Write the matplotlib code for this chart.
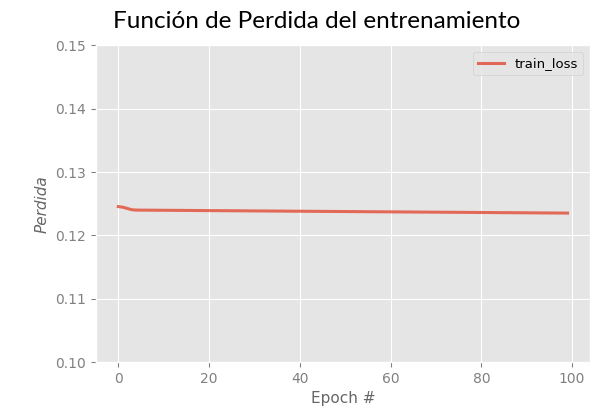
import numpy as np
import matplotlib
matplotlib.use('Agg')
from matplotlib import pyplot as plt

plt.style.use('ggplot')

# loss per epoch
train_loss = [
    0.12455, 0.12445, 0.12425, 0.12405,
    0.12400, 0.12399, 0.12399, 0.12398, 0.12398, 0.12397, 0.12397, 0.12396, 0.12396, 0.12395,
    0.12395, 0.12394, 0.12394, 0.12393, 0.12393, 0.12392, 0.12392, 0.12391, 0.12391, 0.12390,
    0.12390, 0.12389, 0.12389, 0.12388, 0.12388, 0.12387, 0.12387, 0.12386, 0.12386, 0.12385,
    0.12385, 0.12384, 0.12384, 0.12383, 0.12383, 0.12382, 0.12382, 0.12381, 0.12381, 0.12380,
    0.12380, 0.12379, 0.12379, 0.12378, 0.12378, 0.12377, 0.12377, 0.12376, 0.12376, 0.12375,
    0.12375, 0.12374, 0.12374, 0.12373, 0.12373, 0.12372, 0.12372, 0.12371, 0.12371, 0.12370,
    0.12370, 0.12369, 0.12369, 0.12368, 0.12368, 0.12367, 0.12367, 0.12366, 0.12366, 0.12365,
    0.12365, 0.12364, 0.12364, 0.12363, 0.12363, 0.12362, 0.12362, 0.12361, 0.12361, 0.12360,
    0.12360, 0.12359, 0.12359, 0.12358, 0.12358, 0.12357, 0.12357, 0.12356, 0.12356, 0.12355,
    0.12355, 0.12354, 0.12354, 0.12353, 0.12353, 0.12352,
]
epochs = np.arange(len(train_loss))

fig = plt.figure(figsize=(5.99, 4.12), dpi=100)
ax = fig.add_axes([0.16, 0.121, 0.825, 0.769])

ax.plot(epochs, train_loss, color='#E24A33', lw=2.2, alpha=0.8, label='train_loss')
ax.set_ylim(0.10, 0.15)
ax.set_yticks([0.10, 0.11, 0.12, 0.13, 0.14, 0.15])
ax.set_xticks([0, 20, 40, 60, 80, 100])
ax.tick_params(labelsize=10, colors='#808080')

ax.set_xlabel('Epoch #', fontsize=11, color='#666666')
ax.set_ylabel('Perdida', fontsize=11, color='#666666', style='italic')
ax.legend(loc='upper right', fontsize=9.5)

fig.text(0.528, 0.949, 'Función de Perdida del entrenamiento',
         ha='center', va='center', fontsize=17.5, family='Lato', color='black')

fig.savefig('out.png', dpi=100)
